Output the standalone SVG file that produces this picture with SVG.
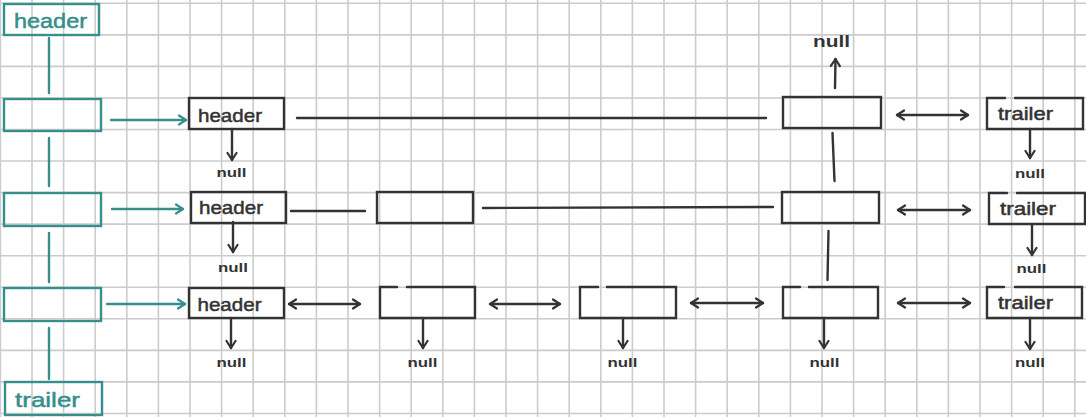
<svg xmlns="http://www.w3.org/2000/svg" width="1086" height="417" viewBox="0 0 1086 417">
<style>
.grid{stroke:#cccccc;stroke-width:1.6;fill:none}
.k{stroke:#333333;stroke-width:2.4;fill:none;stroke-linecap:round}
.t{stroke:#368f8b;stroke-width:2.4;fill:none;stroke-linecap:round}
.kt{fill:#333333;font-family:"Liberation Sans",Arial,sans-serif;font-size:19px;stroke:#333333;stroke-width:0.5}
.tt{fill:#368f8b;font-family:"Liberation Sans",Arial,sans-serif;font-size:21px;stroke:#368f8b;stroke-width:0.5}
.nl{fill:#333333;font-family:"Liberation Sans",Arial,sans-serif;font-size:13.5px;font-weight:bold;text-anchor:middle}
.ka{marker-end:url(#ak)}
.kd{marker-start:url(#ak);marker-end:url(#ak)}
.ta{marker-end:url(#at)}
</style>
<defs>
<marker id="ak" viewBox="-10 -6 12 12" refX="0" refY="0" markerWidth="12" markerHeight="12" markerUnits="userSpaceOnUse" orient="auto-start-reverse">
<path d="M-7,-4.5 L0,0 L-7,4.5" fill="none" stroke="#333333" stroke-width="2.2" stroke-linecap="round" stroke-linejoin="round"/>
</marker>
<marker id="at" viewBox="-10 -6 12 12" refX="0" refY="0" markerWidth="12" markerHeight="12" markerUnits="userSpaceOnUse" orient="auto-start-reverse">
<path d="M-7,-4.5 L0,0 L-7,4.5" fill="none" stroke="#368f8b" stroke-width="2.2" stroke-linecap="round" stroke-linejoin="round"/>
</marker>
</defs>
<rect x="0" y="0" width="1086" height="417" fill="#ffffff"/>
<g id="grid">
<path class="grid" d="M0.4,0V417M32,0V417M63.6,0V417M95.2,0V417M126.8,0V417M158.4,0V417M190,0V417M221.6,0V417M253.2,0V417M284.8,0V417M316.4,0V417M348,0V417M379.6,0V417M411.2,0V417M442.8,0V417M474.4,0V417M506,0V417M537.6,0V417M569.2,0V417M600.8,0V417M632.4,0V417M664,0V417M695.6,0V417M727.2,0V417M758.8,0V417M790.4,0V417M822,0V417M853.6,0V417M885.2,0V417M916.8,0V417M948.4,0V417M980,0V417M1011.6,0V417M1043.2,0V417M1074.8,0V417M0,3.3H1086M0,34.85H1086M0,66.4H1086M0,97.95H1086M0,129.5H1086M0,161.05H1086M0,192.6H1086M0,224.15H1086M0,255.7H1086M0,287.25H1086M0,318.8H1086M0,350.35H1086M0,381.9H1086M0,413.45H1086"/>
</g>

<g id="connectors">
<line class="t" x1="49" y1="38" x2="49" y2="93"/>
<line class="t" x1="49" y1="138" x2="49" y2="186"/>
<line class="t" x1="49" y1="233" x2="49" y2="282"/>
<line class="t" x1="49" y1="328" x2="49" y2="379"/>
<line class="t ta" x1="111" y1="120" x2="186" y2="120"/>
<line class="t ta" x1="112" y1="209" x2="183" y2="209"/>
<line class="t ta" x1="107" y1="304" x2="185" y2="304"/>
<line class="k" x1="297" y1="118" x2="766" y2="118"/>
<line class="k ka" x1="835" y1="88" x2="835.5" y2="59"/>
<line class="k kd" x1="897" y1="115" x2="968" y2="115"/>
<line class="k ka" x1="232" y1="129" x2="232" y2="160"/>
<line class="k ka" x1="1030" y1="129" x2="1030" y2="158"/>
<line class="k" x1="832.5" y1="133" x2="834.5" y2="181"/>
<line class="k" x1="291" y1="211" x2="365" y2="211"/>
<line class="k" x1="483" y1="208" x2="773" y2="207"/>
<line class="k kd" x1="898" y1="210" x2="970" y2="210"/>
<line class="k ka" x1="233" y1="222" x2="233" y2="252"/>
<line class="k ka" x1="1032" y1="224" x2="1032" y2="255"/>
<line class="k" x1="828.5" y1="231" x2="827.5" y2="280"/>
<line class="k kd" x1="289" y1="304" x2="360" y2="304"/>
<line class="k kd" x1="490" y1="304" x2="560" y2="304"/>
<line class="k kd" x1="691" y1="303" x2="763" y2="303"/>
<line class="k kd" x1="898" y1="303" x2="970" y2="303"/>
<line class="k ka" x1="231" y1="318" x2="231" y2="348"/>
<line class="k ka" x1="423" y1="318" x2="423" y2="348"/>
<line class="k ka" x1="623" y1="318" x2="623" y2="348"/>
<line class="k ka" x1="824" y1="318" x2="824" y2="348"/>
<line class="k ka" x1="1030" y1="318" x2="1030" y2="349"/>
</g>

<g id="idx-header">
<rect class="t" x="4" y="4" width="95" height="31"/>
<text class="tt" x="14" y="28" textLength="73" lengthAdjust="spacingAndGlyphs">header</text>
</g>
<g id="idx-1"><rect class="t" x="4" y="99" width="97" height="32"/></g>
<g id="idx-2"><rect class="t" x="4" y="193" width="97" height="33"/></g>
<g id="idx-3"><rect class="t" x="4" y="288" width="97" height="33"/></g>
<g id="idx-trailer">
<rect class="t" x="5" y="382" width="97" height="33"/>
<text class="tt" x="15" y="407" textLength="65" lengthAdjust="spacingAndGlyphs">trailer</text>
</g>

<g id="r1-header">
<rect class="k" x="189" y="98" width="95" height="31"/>
<text class="kt" x="198" y="121.5" textLength="64" lengthAdjust="spacingAndGlyphs">header</text>
</g>
<g id="r1-null-header"><text class="nl" x="231.5" y="176.5" textLength="30" lengthAdjust="spacingAndGlyphs">null</text></g>
<g id="r1-node"><rect class="k" x="783" y="97" width="98" height="31"/></g>
<g id="r1-null-up"><text class="nl" x="831.5" y="46.5" style="font-size:17px" textLength="37" lengthAdjust="spacingAndGlyphs">null</text></g>
<g id="r1-trailer">
<path class="k" d="M1005,98 H987 V129 H1083 V98 H1015"/>
<text class="kt" x="998" y="120" style="font-size:18px" textLength="55" lengthAdjust="spacingAndGlyphs">trailer</text>
</g>
<g id="r1-null-trailer"><text class="nl" x="1030" y="178" textLength="30" lengthAdjust="spacingAndGlyphs">null</text></g>

<g id="r2-header">
<rect class="k" x="191" y="192" width="95" height="31"/>
<text class="kt" x="199" y="214" textLength="64" lengthAdjust="spacingAndGlyphs">header</text>
</g>
<g id="r2-null-header"><text class="nl" x="233" y="271.5" textLength="30" lengthAdjust="spacingAndGlyphs">null</text></g>
<g id="r2-node-a"><rect class="k" x="377" y="192" width="96" height="31"/></g>
<g id="r2-node-b"><rect class="k" x="782" y="192" width="97" height="31"/></g>
<g id="r2-trailer">
<path class="k" d="M1007,193 H989 V224 H1085 V193 H1017"/>
<text class="kt" x="1000" y="215" style="font-size:18px" textLength="56" lengthAdjust="spacingAndGlyphs">trailer</text>
</g>
<g id="r2-null-trailer"><text class="nl" x="1031.5" y="273" textLength="30" lengthAdjust="spacingAndGlyphs">null</text></g>

<g id="r3-header">
<rect class="k" x="189" y="288" width="95" height="30"/>
<text class="kt" x="197.5" y="310.5" textLength="64" lengthAdjust="spacingAndGlyphs">header</text>
</g>
<g id="r3-null-header"><text class="nl" x="231.5" y="366.5" textLength="30" lengthAdjust="spacingAndGlyphs">null</text></g>
<g id="r3-node-a"><path class="k" d="M397,287 H380 V318 H475 V287 H407"/></g>
<g id="r3-null-a"><text class="nl" x="422.5" y="366.5" textLength="30" lengthAdjust="spacingAndGlyphs">null</text></g>
<g id="r3-node-b"><path class="k" d="M598,287 H580 V318 H676 V287 H607"/></g>
<g id="r3-null-b"><text class="nl" x="622.5" y="366.5" textLength="30" lengthAdjust="spacingAndGlyphs">null</text></g>
<g id="r3-node-c"><path class="k" d="M800,287 H783 V318 H878 V287 H809"/></g>
<g id="r3-null-c"><text class="nl" x="824.5" y="366.5" textLength="30" lengthAdjust="spacingAndGlyphs">null</text></g>
<g id="r3-trailer">
<path class="k" d="M1004,287 H987 V318 H1082 V287 H1015"/>
<text class="kt" x="998" y="309" style="font-size:18px" textLength="55" lengthAdjust="spacingAndGlyphs">trailer</text>
</g>
<g id="r3-null-trailer"><text class="nl" x="1030" y="366.5" textLength="30" lengthAdjust="spacingAndGlyphs">null</text></g>
</svg>
